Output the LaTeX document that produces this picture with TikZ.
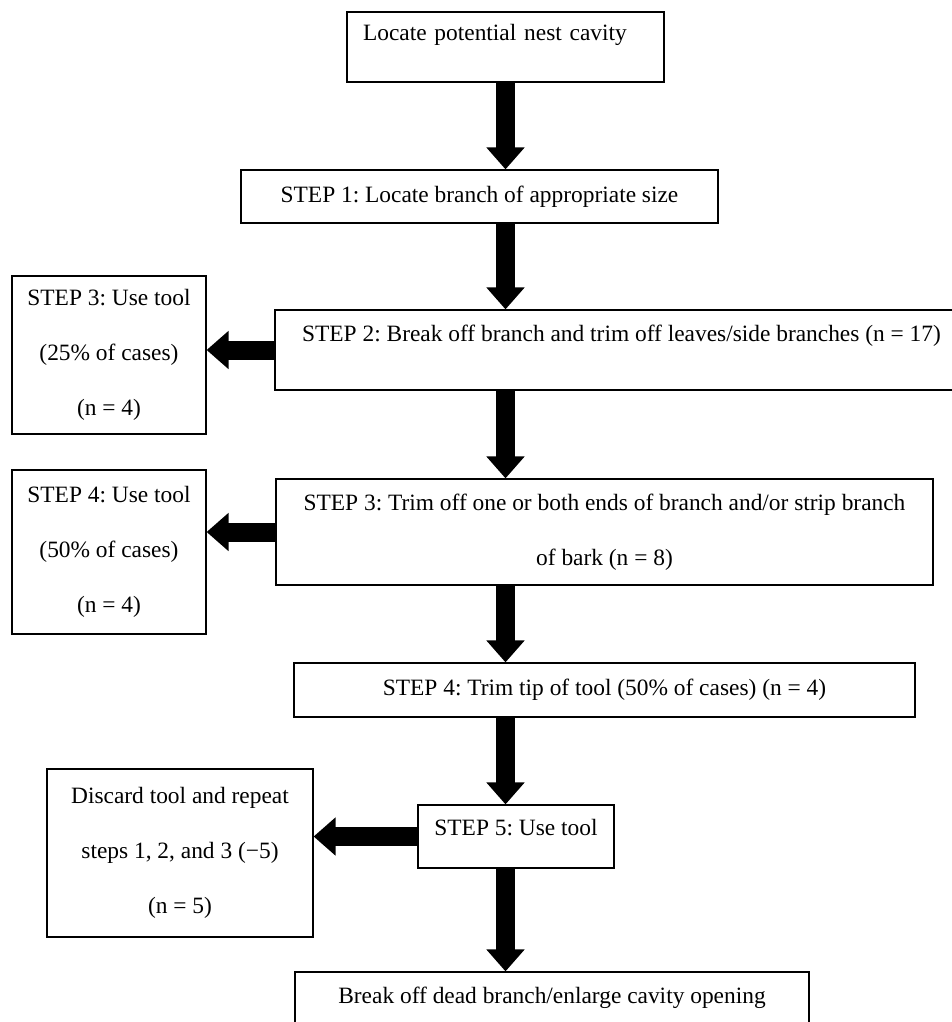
\documentclass[tikz,border=0pt]{standalone}
\usepackage{fontspec}
\setmainfont{Liberation Serif}
\frenchspacing
\usepackage{tikz}
\usetikzlibrary{shapes,positioning,calc}
\usetikzlibrary{arrows.meta}
\tikzstyle{stepbox} = [rectangle, draw=black, line width=1.2pt, text centered, align=center, inner sep=3pt]
\tikzstyle{blockarrow} = [line width=19pt, -{Triangle[width=37pt,length=22pt]}]

\begin{document}
\begin{tikzpicture}[x=1pt, y=-1pt, font=\fontsize{23.4pt}{55pt}\selectfont]
				\useasboundingbox (0,0) rectangle (952,1022);
				\node (locate) at (505.5,47) [stepbox, minimum width=317pt, minimum height=70pt, text width=285pt, align=left, inner xsep=16pt, text height=16pt, text depth=28pt] {Locate potential nest cavity};
				\node (step1) at (479.5,196.5) [stepbox, minimum width=477pt, minimum height=53pt] {STEP 1: Locate branch of appropriate size};
				\node (step2) at (621.5,350) [stepbox, minimum width=693pt, minimum height=80pt, text height=16pt, text depth=34pt] {STEP 2: Break off branch and trim off leaves/side branches (n = 17)};
				\node (use1) at (109,355) [stepbox, minimum width=194pt, minimum height=158pt] {STEP 3: Use tool\\(25\% of cases)\\(n = 4)};
				\node (step3) at (604.5,532) [stepbox, minimum width=657pt, minimum height=106pt] {STEP 3: Trim off one or both ends of branch and/or strip branch\\of bark (n = 8)};
				\node (use2) at (109,552) [stepbox, minimum width=194pt, minimum height=164pt] {STEP 4: Use tool\\(50\% of cases)\\(n = 4)};
				\node (step4) at (604.5,690) [stepbox, minimum width=621pt, minimum height=54pt] {STEP 4: Trim tip of tool (50\% of cases) (n = 4)};
				\node (step5) at (516,836.5) [stepbox, minimum width=196pt, minimum height=63pt, text height=16pt, text depth=19pt] {STEP 5: Use tool};
				\node (discard) at (180,853) [stepbox, minimum width=266pt, minimum height=168pt] {Discard tool and repeat\\steps 1, 2, and 3 (−5)\\(n = 5)};
				\node (final) at (552,1006) [stepbox, minimum width=514pt, minimum height=68pt, text height=16pt, text depth=22pt] {Break off dead branch/enlarge cavity opening};
				\coordinate (col) at (505.5,0);
				\draw[blockarrow] (locate.south) -- (step1.north -| col);
				\draw[blockarrow] (step1.south -| col) -- (step2.north -| col);
				\draw[blockarrow] (step2.south -| col) -- (step3.north -| col);
				\draw[blockarrow] (step3.south -| col) -- (step4.north -| col);
				\draw[blockarrow] (step4.south -| col) -- (step5.north -| col);
				\draw[blockarrow] (step5.south -| col) -- (final.north -| col);
				\draw[blockarrow] (step2.west) -- (step2.west -| use1.east);
				\draw[blockarrow] (step3.west) -- (step3.west -| use2.east);
				\draw[blockarrow] (step5.west) -- (step5.west -| discard.east);
				\end{tikzpicture}
\end{document}
